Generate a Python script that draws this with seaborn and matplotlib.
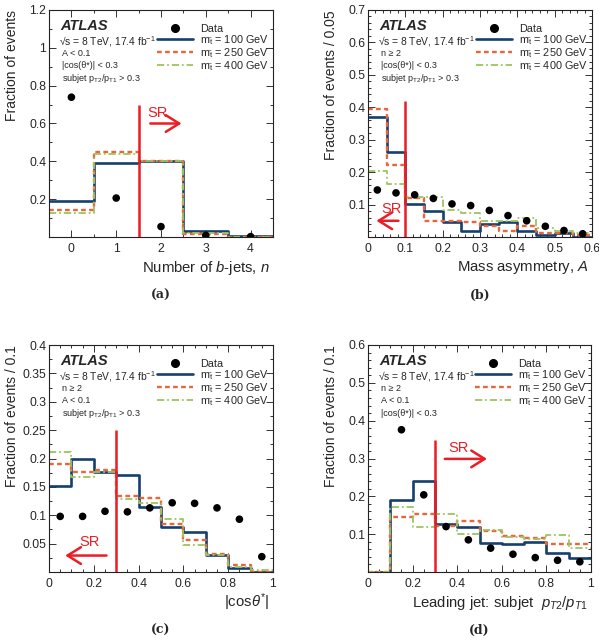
import numpy as np
import pandas as pd
import matplotlib
matplotlib.use('Agg')
import matplotlib.pyplot as plt
import matplotlib.ticker as mticker
from matplotlib.lines import Line2D
import seaborn as sns

sns.set_theme(style='ticks')
plt.rcParams['font.family'] = ['Liberation Sans', 'DejaVu Sans']
plt.rcParams['mathtext.fontset'] = 'custom'
plt.rcParams['mathtext.rm'] = 'Liberation Sans'
plt.rcParams['mathtext.it'] = 'Liberation Sans:italic'
plt.rcParams['mathtext.bf'] = 'Liberation Sans:bold'

# ---------------- (a) number of b-jets
nb_edges = [-0.5, 0.5, 1.5, 2.5, 3.5, 4.5]
nb_data = [0.739, 0.206, 0.055, 0.009, 0.002]
nb_m100 = [0.189, 0.393, 0.400, 0.030, 0.004]
nb_m250 = [0.145, 0.450, 0.400, 0.014, 0.001]
nb_m400 = [0.127, 0.437, 0.400, 0.023, 0.002]

# ---------------- (b) mass asymmetry
asym_edges = [0, 0.05, 0.1, 0.15, 0.2, 0.25, 0.3, 0.35, 0.4, 0.45, 0.5, 0.55, 0.6]
asym_data = [0.145, 0.136, 0.130, 0.119, 0.102, 0.097, 0.082, 0.066, 0.050, 0.033, 0.020, 0.010]
asym_m100 = [0.369, 0.261, 0.102, 0.079, 0.045, 0.020, 0.039, 0.046, 0.017, 0.005, 0.013, 0.001]
asym_m250 = [0.395, 0.223, 0.121, 0.050, 0.050, 0.047, 0.034, 0.020, 0.034, 0.012, 0.012, 0.006]
asym_m400 = [0.205, 0.163, 0.124, 0.124, 0.083, 0.075, 0.050, 0.050, 0.059, 0.027, 0.020, 0.012]

# ---------------- (c) |cos theta*|
cos_edges = [0, 0.1, 0.2, 0.3, 0.4, 0.5, 0.6, 0.7, 0.8, 0.9, 1.0]
cos_data = [0.098, 0.098, 0.107, 0.106, 0.113, 0.122, 0.121, 0.113, 0.093, 0.027]
cos_m100 = [0.151, 0.199, 0.176, 0.171, 0.115, 0.080, 0.071, 0.030, 0.007, 0.000]
cos_m250 = [0.191, 0.177, 0.179, 0.134, 0.130, 0.084, 0.057, 0.032, 0.013, 0.000]
cos_m400 = [0.212, 0.167, 0.177, 0.129, 0.122, 0.094, 0.048, 0.030, 0.009, 0.003]

# ---------------- (d) subjet pT2/pT1
pt_edges = [0, 0.1, 0.2, 0.3, 0.4, 0.5, 0.6, 0.7, 0.8, 0.9, 1.0]
pt_data_x = [0.15, 0.25, 0.35, 0.45, 0.55, 0.65, 0.75, 0.85, 0.95]
pt_data = [0.376, 0.204, 0.120, 0.085, 0.063, 0.047, 0.038, 0.031, 0.027]
pt_m100 = [0.0, 0.191, 0.240, 0.127, 0.119, 0.077, 0.074, 0.079, 0.050, 0.038]
pt_m250 = [0.0, 0.145, 0.154, 0.122, 0.134, 0.108, 0.096, 0.089, 0.074, 0.074]
pt_m400 = [0.0, 0.173, 0.120, 0.152, 0.100, 0.110, 0.092, 0.087, 0.097, 0.063]

BLUE = '#15406e'
ORANGE = '#e8663a'
GREEN = '#9dc45f'
RED = '#ec1c24'

styles = [
    dict(color=BLUE, lw=1.9, linestyle='-'),
    dict(color=ORANGE, lw=1.7, dashes=(2, 1.4)),
    dict(color=GREEN, lw=1.3, dashes=(4, 1.6, 1, 1.6)),
]
masses = ['100', '250', '400']

fig = plt.figure(figsize=(5.99, 6.42), dpi=100)
W, H = 599, 642


def add_ax(left, top, right, bottom):
    return fig.add_axes([left / W, 1 - bottom / H, (right - left) / W, (bottom - top) / H])


panels = [
    dict(ax=add_ax(49, 10, 273, 237), edges=nb_edges, data=nb_data, data_x=None,
         sig=[nb_m100, nb_m250, nb_m400], xlim=(-0.5, 4.5), ylim=(0, 1.2), ystep=0.2,
         xticks=[0, 1, 2, 3, 4], ylabel='Fraction of events', xlabel=r'Number of $b$-jets, $n$',
         info=['A < 0.1', '|cos(θ*)| < 0.3', r'subjet p$_{\mathregular{T2}}$/p$_{\mathregular{T1}}$ > 0.3'],
         cut=1.5, cut_top=0.70, sr=(1.70, 0.653), arrow=(1.70, 2.52, 0.60), tag='(a)'),
    dict(ax=add_ax(368, 10, 592, 237), edges=asym_edges, data=asym_data, data_x=None,
         sig=[asym_m100, asym_m250, asym_m400], xlim=(0, 0.6), ylim=(0, 0.7), ystep=0.1,
         xticks=[0, 0.1, 0.2, 0.3, 0.4, 0.5, 0.6], ylabel='Fraction of events / 0.05',
         xlabel=r'Mass asymmetry, $A$',
         info=['n ≥ 2', '|cos(θ*)| < 0.3', r'subjet p$_{\mathregular{T2}}$/p$_{\mathregular{T1}}$ > 0.3'],
         cut=0.1, cut_top=0.42, sr=(0.036, 0.086), arrow=(0.089, 0.015, 0.05), tag='(b)'),
    dict(ax=add_ax(49, 345, 273, 572), edges=cos_edges, data=cos_data, data_x=None,
         sig=[cos_m100, cos_m250, cos_m400], xlim=(0, 1), ylim=(0, 0.4), ystep=0.05,
         xticks=[0, 0.2, 0.4, 0.6, 0.8, 1.0], ylabel='Fraction of events / 0.1',
         xlabel=r'|cos$\theta^{*}$|',
         info=['n ≥ 2', 'A < 0.1', r'subjet p$_{\mathregular{T2}}$/p$_{\mathregular{T1}}$ > 0.3'],
         cut=0.3, cut_top=0.25, sr=(0.134, 0.053), arrow=(0.269, 0.06, 0.029), tag='(c)'),
    dict(ax=add_ax(368, 345, 591, 572), edges=pt_edges, data=pt_data, data_x=pt_data_x,
         sig=[pt_m100, pt_m250, pt_m400], xlim=(0, 1), ylim=(0, 0.6), ystep=0.1,
         xticks=[0, 0.2, 0.4, 0.6, 0.8, 1.0], ylabel='Fraction of events / 0.1',
         xlabel=r'Leading jet: subjet  $p_{T2}/p_{T1}$',
         info=['n ≥ 2', 'A < 0.1', '|cos(θ*)| < 0.3'],
         cut=0.3, cut_top=0.35, sr=(0.36, 0.328), arrow=(0.332, 0.546, 0.299), tag='(d)'),
]

for p in panels:
    ax = p['ax']
    edges = np.array(p['edges'])
    centers = (edges[:-1] + edges[1:]) / 2

    for vals, st in zip(p['sig'], styles):
        df = pd.DataFrame({'x': centers, 'w': vals})
        sns.histplot(data=df, x='x', weights='w', bins=list(p['edges']), element='step',
                     fill=False, ax=ax, **st)

    dx = centers if p['data_x'] is None else p['data_x']
    sns.scatterplot(x=dx, y=p['data'], color='black', s=30, edgecolor='none', ax=ax, zorder=5)

    # cut line and SR arrow
    ax.vlines(p['cut'], 0, p['cut_top'], color=RED, lw=1.8, zorder=4)
    ax.text(p['sr'][0], p['sr'][1], 'SR', color=RED, fontsize=10.5, va='center', ha='left')
    a0, a1, ay = p['arrow']
    ax.annotate('', xy=(a1, ay), xytext=(a0, ay),
                arrowprops=dict(arrowstyle='->,head_length=0.8,head_width=0.5', color=RED, lw=1.8))

    ax.set_xlim(*p['xlim'])
    ax.set_ylim(*p['ylim'])
    yt = np.arange(p['ystep'], p['ylim'][1] + 1e-9, p['ystep'])
    ax.set_yticks(yt)
    ax.set_xticks(p['xticks'])
    ax.xaxis.set_major_formatter(mticker.FormatStrFormatter('%g'))
    ax.yaxis.set_major_formatter(mticker.FuncFormatter(lambda v, pos: '%g' % round(v, 3)))
    if p['tag'] == '(a)':
        ax.xaxis.set_minor_locator(mticker.FixedLocator([-0.5, 0.5, 1.5, 2.5, 3.5, 4.5]))
        ax.yaxis.set_minor_locator(mticker.MultipleLocator(0.1))
    else:
        ax.xaxis.set_minor_locator(mticker.AutoMinorLocator(4 if p['xticks'][1] == 0.2 else 5))
        ax.yaxis.set_minor_locator(mticker.AutoMinorLocator(5 if p['ystep'] != 0.05 else 2))
    ax.tick_params(which='both', direction='in', top=True, right=True, labelsize=8.8,
                   width=0.7, color='#333333')
    ax.tick_params(axis='y', which='both', pad=2)
    ax.tick_params(axis='x', which='both', pad=4)
    ax.tick_params(which='major', length=5)
    ax.tick_params(which='minor', length=2.5)
    for sp in ax.spines.values():
        sp.set_linewidth(0.8)
        sp.set_color('#222222')

    ax.set_xlabel('')
    ax.set_ylabel('')
    ax.text(-0.165, 1.0, p['ylabel'], rotation=90, ha='center', va='top', fontsize=10,
            transform=ax.transAxes)
    ax.text(0.985, -0.135, p['xlabel'], ha='right', va='center', fontsize=10.7,
            transform=ax.transAxes)

    # ATLAS label block
    ax.text(0.05, 0.93, 'ATLAS', fontsize=10.5, fontweight='bold', fontstyle='italic',
            transform=ax.transAxes, va='center')
    ax.text(0.045, 0.862, r'√s = 8 TeV, 17.4 fb$^{\mathregular{-1}}$', fontsize=7.4,
            transform=ax.transAxes, va='center')
    for i, line in enumerate(p['info']):
        ax.text(0.057, 0.808 - 0.054 * i, line, fontsize=6.5, transform=ax.transAxes, va='center')

    handles = [Line2D([], [], marker='o', linestyle='none', color='black', markersize=5.5)]
    labels = ['Data']
    for st, m in zip(styles, masses):
        handles.append(Line2D([], [], **st))
        labels.append(r'm$_{\tilde{\mathregular{t}}}$ = ' + m + ' GeV')
    ax.legend(handles, labels, loc='upper right', bbox_to_anchor=(0.985, 0.945), frameon=False,
              fontsize=7.8, handlelength=3.3, handletextpad=0.6, labelspacing=-0.06,
              borderpad=0.1, borderaxespad=0)

    # panel tag
    pos = ax.get_position()
    fig.text(pos.x0 + pos.width / 2, pos.y0 - 58 / H, p['tag'], ha='center', va='center',
             fontsize=9, fontweight='bold', family='DejaVu Serif')

fig.savefig('out.png', dpi=100)
